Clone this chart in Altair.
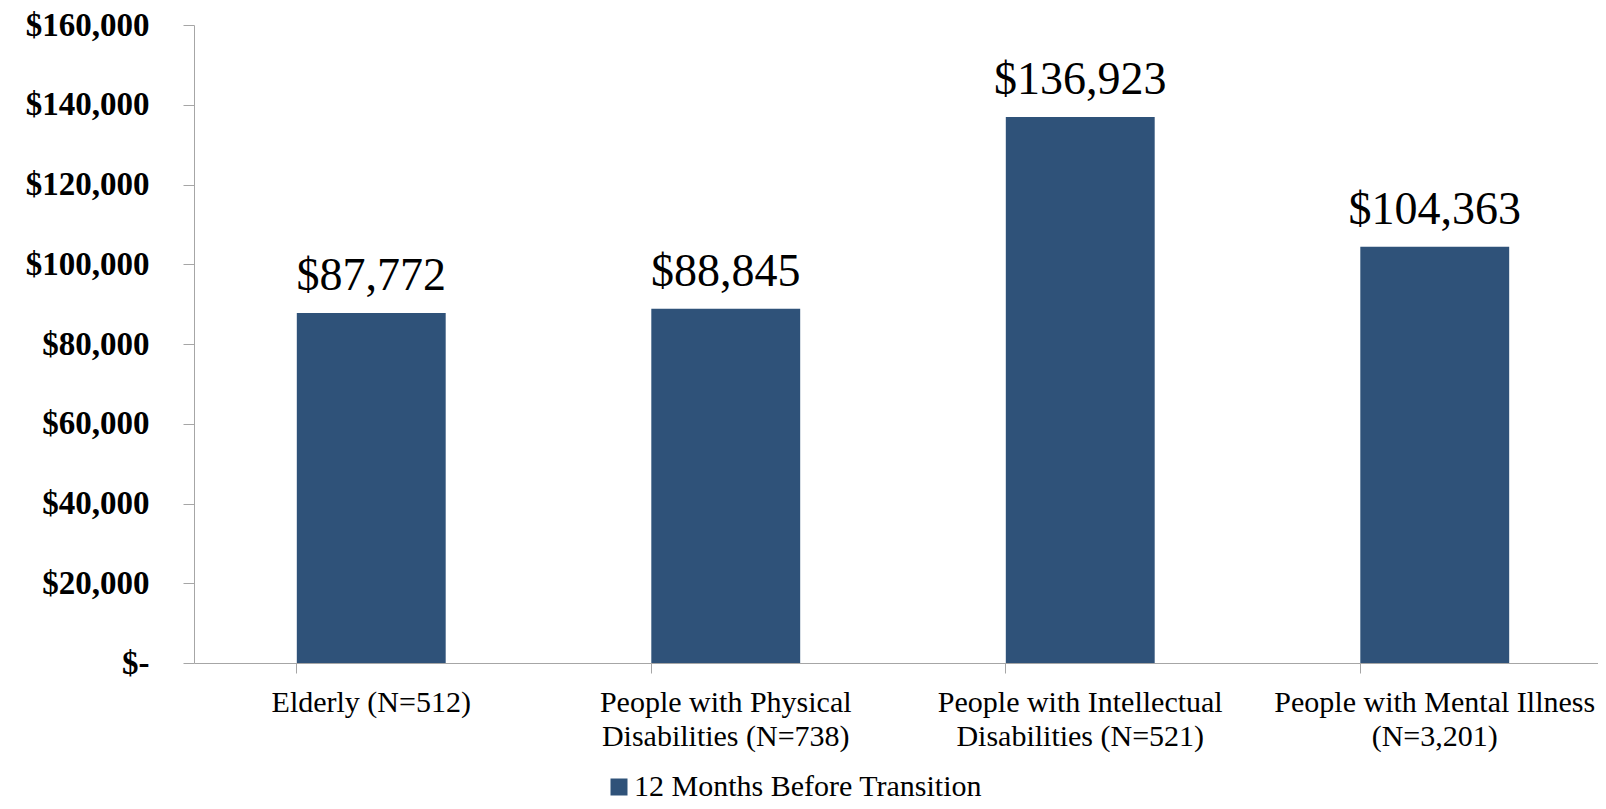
import altair as alt
import pandas as pd

categories = [
    "Elderly (N=512)",
    "People with Physical|Disabilities (N=738)",
    "People with Intellectual|Disabilities (N=521)",
    "People with Mental Illness|(N=3,201)",
]
values = [87772, 88845, 136923, 104363]
series_name = "12 Months Before Transition"
y_ticks = [0, 20000, 40000, 60000, 80000, 100000, 120000, 140000, 160000]

df = pd.DataFrame({"category": categories, "value": values, "series": [series_name] * len(values)})

FONT = "Liberation Serif"
BAR = "#2F5279"
GRAY = "#A6A6A6"

x_enc = alt.X(
    "category:N",
    sort=categories,
    scale=alt.Scale(range=[0, 1418], paddingInner=0.58, paddingOuter=0.29),
    axis=alt.Axis(
        title=None,
        labelExpr="split(datum.label, '|')",
        labelAngle=0,
        labelFont=FONT,
        labelFontSize=30,
        labelColor="#000000",
        labelLineHeight=34,
        labelBaseline="top",
        labelPadding=14,
        bandPosition=0,
        tickSize=10,
        tickColor=GRAY,
        domainColor=GRAY,
        labelLimit=500,
        labelOverlap=False,
    ),
)

y_enc = alt.Y(
    "value:Q",
    scale=alt.Scale(domain=[0, 160000], nice=False),
    axis=alt.Axis(
        title=None,
        values=y_ticks,
        labelExpr="datum.value == 0 ? '$-\u00a0\u00a0' : '$' + format(datum.value, ',')",
        labelFont=FONT,
        labelFontSize=33,
        labelFontWeight="bold",
        labelColor="#000000",
        labelPadding=34,
        tickSize=11,
        tickColor=GRAY,
        domainColor=GRAY,
        grid=False,
    ),
)

bars = alt.Chart(df).mark_bar().encode(
    x=x_enc,
    y=y_enc,
    color=alt.Color(
        "series:N",
        scale=alt.Scale(range=[BAR]),
        legend=alt.Legend(
            title=None,
            orient="none",
            legendX=410,
            legendY=747,
            labelFont=FONT,
            labelFontSize=30,
            labelColor="#000000",
            labelLimit=700,
            symbolType="square",
            symbolSize=289,
            symbolStrokeWidth=0,
            labelOffset=0,
            padding=0,
        ),
    ),
)

labels = alt.Chart(df).mark_text(
    font=FONT, fontSize=46, color="#000000", baseline="alphabetic", dy=-23
).encode(
    x=alt.X("category:N", sort=categories),
    y="value:Q",
    text=alt.Text("value:Q", format="$,.0f"),
)

chart = (
    alt.layer(bars, labels)
    .properties(
        width=1400,
        height=638,
        autosize=alt.AutoSizeParams(type="none"),
        padding={"left": 186, "top": 17, "right": 4, "bottom": 138},
    )
    .configure_view(stroke=None)
)

chart.save("out.html", embed_options={"renderer": "svg", "actions": False})
